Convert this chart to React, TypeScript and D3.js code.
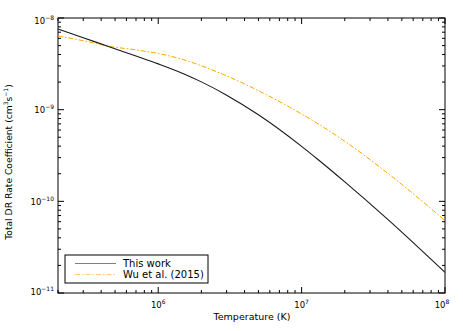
import React from "react";
import * as d3 from "d3";

const thisWorkT = [2e5, 3e5, 4.6e5, 7e5, 1e6, 1.5e6, 2e6, 3e6, 5e6, 1e7, 1.3e7, 2e7, 3.9e7, 1e8];
const thisWorkRate = [7.59e-9, 6.1e-9, 4.83e-9, 3.85e-9, 3.16e-9, 2.47e-9, 2.01e-9, 1.44e-9, 8.81e-10, 3.98e-10, 2.86e-10, 1.63e-10, 6.56e-11, 1.68e-11];

const wuT = [2e5, 3e5, 4.6e5, 7e5, 1e6, 1.5e6, 2e6, 3e6, 5e6, 1e7, 2e7, 3.9e7, 5.1e7, 1e8];
const wuRate = [6.37e-9, 5.65e-9, 4.9e-9, 4.49e-9, 4.1e-9, 3.51e-9, 3.01e-9, 2.34e-9, 1.61e-9, 8.97e-10, 4.52e-10, 2.08e-10, 1.49e-10, 6.17e-11];

const xMajor = [1e6, 1e7, 1e8];
const xMajorExp = ["6", "7", "8"];
const yMajor = [1e-8, 1e-9, 1e-10, 1e-11];
const yMajorExp = ["\u22128", "\u22129", "\u221210", "\u221211"];

const legendLabels = ["This work", "Wu et al. (2015)"];

const W = 463, H = 331;
const L = 58, R = 445, T = 18, B = 293;

export default function App() {
  const x = d3.scaleLog().domain([2e5, 1e8]).range([L, R]);
  const y = d3.scaleLog().domain([1e-11, 1e-8]).range([B, T]);

  const line = d3
    .line<[number, number]>()
    .x((d) => x(d[0]))
    .y((d) => y(d[1]))
    .curve(d3.curveMonotoneX);

  const blackPts: [number, number][] = thisWorkT.map((t, i) => [t, thisWorkRate[i]]);
  const wuPts: [number, number][] = wuT.map((t, i) => [t, wuRate[i]]);

  const xMinor: number[] = [];
  for (let e = 5; e < 8; e++) {
    for (let k = 2; k <= 9; k++) {
      const v = k * Math.pow(10, e);
      if (v >= 2e5 && v <= 1e8) xMinor.push(v);
    }
  }
  const yMinor: number[] = [];
  for (let e = -11; e < -8; e++) {
    for (let k = 2; k <= 9; k++) yMinor.push(k * Math.pow(10, e));
  }

  const font = "DejaVu Sans, Verdana, sans-serif";
  const maj = 6, mnr = 3;

  return (
    <svg width={W} height={H} style={{ position: "absolute", left: 0, top: 0, background: "#fff" }} fontFamily={font}>
      <rect x={0} y={0} width={W} height={H} fill="#fff" />
      <rect x={L} y={T} width={R - L} height={B - T} fill="none" stroke="#000" strokeWidth={1} />
      {xMinor.map((v, i) => (
        <g key={"xm" + i} stroke="#000" strokeWidth={1}>
          <line x1={x(v)} x2={x(v)} y1={B} y2={B - mnr} />
          <line x1={x(v)} x2={x(v)} y1={T} y2={T + mnr} />
        </g>
      ))}
      {xMajor.map((v, i) => (
        <g key={"xM" + i}>
          <line x1={x(v)} x2={x(v)} y1={B} y2={B - maj} stroke="#000" />
          <line x1={x(v)} x2={x(v)} y1={T} y2={T + maj} stroke="#000" />
          <text x={x(v) - (i === 2 ? 3 : 0)} y={308} textAnchor="middle" fontSize={8.5}>
            10<tspan fontSize={6} dy={-4}>{xMajorExp[i]}</tspan>
          </text>
        </g>
      ))}
      {yMinor.map((v, i) => (
        <g key={"ymn" + i} stroke="#000" strokeWidth={1}>
          <line x1={L} x2={L + mnr} y1={y(v)} y2={y(v)} />
          <line x1={R} x2={R - mnr} y1={y(v)} y2={y(v)} />
        </g>
      ))}
      {yMajor.map((v, i) => (
        <g key={"yM" + i}>
          <line x1={L} x2={L + maj} y1={y(v)} y2={y(v)} stroke="#000" />
          <line x1={R} x2={R - maj} y1={y(v)} y2={y(v)} stroke="#000" />
          <text x={54} y={y(v) + (i === 0 ? 5.5 : i === 3 ? 1.5 : 3.5)} textAnchor="end" fontSize={8.5}>
            10<tspan fontSize={6} dy={-4}>{yMajorExp[i]}</tspan>
          </text>
        </g>
      ))}
      <path d={line(wuPts) || ""} fill="none" stroke="#FFA500" strokeWidth={1} strokeDasharray="5,2,1.5,2" />
      <path d={line(blackPts) || ""} fill="none" stroke="#1a1a1a" strokeWidth={1.1} />
      <text x={252} y={320} textAnchor="middle" fontSize={9.5}>Temperature (K)</text>
      <text transform="translate(12,162) rotate(-90)" textAnchor="middle" fontSize={9.2}>
        Total DR Rate Coefficient (cm<tspan fontSize={6} dy={-4}>3</tspan>
        <tspan dy={4}>s</tspan>
        <tspan fontSize={6} dy={-4}>−1</tspan>
        <tspan dy={4}>)</tspan>
      </text>
      <rect x={65} y={255} width={143} height={28} fill="#fff" stroke="#000" strokeWidth={1} />
      <line x1={75} x2={116} y1={263.5} y2={263.5} stroke="#808080" strokeWidth={1} />
      <line x1={75} x2={116} y1={274.5} y2={274.5} stroke="#ffcc70" strokeWidth={1} strokeDasharray="5,2,1.5,2" />
      <text x={123} y={267} fontSize={10}>{legendLabels[0]}</text>
      <text x={123} y={278} fontSize={10}>{legendLabels[1]}</text>
    </svg>
  );
}
